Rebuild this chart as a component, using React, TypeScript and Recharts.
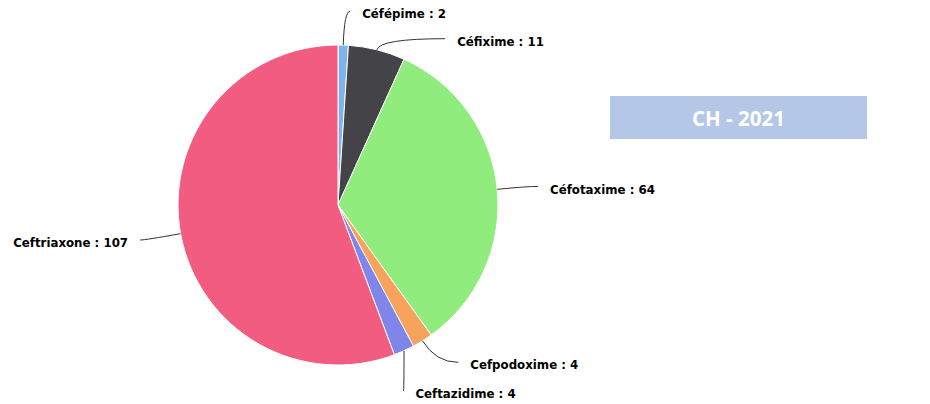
import { PieChart, Pie, Cell } from 'recharts';

const drugs = ['Céfépime', 'Céfixime', 'Céfotaxime', 'Cefpodoxime', 'Ceftazidime', 'Ceftriaxone'];
const counts = [2, 11, 64, 4, 4, 107];
const colors = ['#7cb5ec', '#434348', '#90ed7d', '#f7a35c', '#8085e9', '#f15c80'];
const title = 'CH - 2021';

const labelShift = [
  [18, -1],
  [73, 21],
  [23, 3],
  [32, -1],
  [-1, 16],
  [-23, 4]
];

const data = drugs.map((name, i) => ({ name, value: counts[i] }));
const RAD = Math.PI / 180;

function renderLabel(props: any) {
  const { cx, cy, midAngle, outerRadius, index } = props;
  const cos = Math.cos(-midAngle * RAD);
  const sin = Math.sin(-midAngle * RAD);
  const sx = cx + outerRadius * cos;
  const sy = cy + outerRadius * sin;
  const right = cos >= 0;
  const tx = cx + (outerRadius + 30) * cos + labelShift[index][0];
  const ty = cy + (outerRadius + 30) * sin + labelShift[index][1];
  const ex = right ? tx - 12 : tx + 12;
  const ey = ty - 3;
  // bend where the radial line meets the label's row
  let qx = Math.abs(sin) > 0.05 ? cx + ((ey - cy) / sin) * cos : (sx + ex) / 2;
  if (right) qx = Math.max(Math.min(qx, ex), sx);
  else qx = Math.min(Math.max(qx, ex), sx);
  return (
    <g key={`lbl-${index}`}>
      <path
        d={`M${sx},${sy} Q${qx},${ey} ${ex},${ey}`}
        stroke="#333"
        strokeWidth={1}
        fill="none"
      />
      <text
        x={tx}
        y={ty}
        dy="0.35em"
        textAnchor={right ? 'start' : 'end'}
        fontFamily="'DejaVu Sans', sans-serif"
        fontSize={11.8}
        fontWeight="bold"
        fill="#000"
      >
        {`${drugs[index]} : ${counts[index]}`}
      </text>
    </g>
  );
}

export default function App() {
  return (
    <div style={{ position: 'absolute', left: 0, top: 0, width: 930, height: 404, background: '#fff' }}>
      <PieChart width={930} height={404} margin={{ top: 0, right: 0, bottom: 0, left: 0 }}>
        <Pie
          data={data}
          dataKey="value"
          nameKey="name"
          cx={338}
          cy={205}
          outerRadius={160}
          startAngle={90}
          endAngle={-270}
          stroke="#fff"
          strokeWidth={1}
          label={renderLabel}
          labelLine={false}
          isAnimationActive={false}
        >
          {data.map((d, i) => (
            <Cell key={d.name} fill={colors[i]} />
          ))}
        </Pie>
      </PieChart>
      <div
        style={{
          position: 'absolute',
          left: 610,
          top: 96,
          width: 257,
          height: 43,
          background: '#b4c7e7',
          color: '#fff',
          fontFamily: "'Open Sans', sans-serif",
          fontWeight: 'bold',
          fontSize: 20.5,
          display: 'flex',
          alignItems: 'center',
          justifyContent: 'center'
        }}
      >
        {title}
      </div>
    </div>
  );
}
